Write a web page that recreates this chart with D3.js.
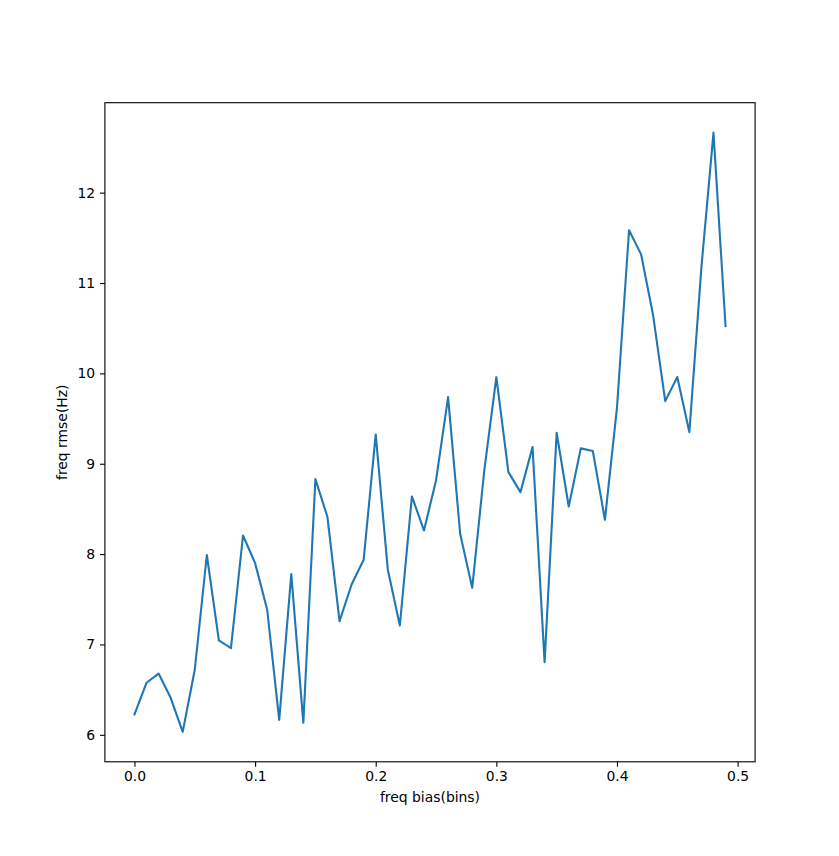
<!DOCTYPE html>
<html>
<head>
<meta charset="utf-8">
<script src="https://cdn.jsdelivr.net/npm/d3@7"></script>
<style>
  body { margin: 0; background: #fff; }
  svg { display: block; }
  .axis text { font-family: "DejaVu Sans", sans-serif; font-size: 13.9px; fill: #000; }
  .axis path, .axis line { stroke: #000; stroke-width: 1.1; }
</style>
</head>
<body>
<svg id="chart"></svg>
<script>
// freq bias (bins) on x, rmse in Hz on y
const biasValues = d3.range(50).map(i => +(i * 0.01).toFixed(2));
const rmseValues = [
  6.225, 6.576, 6.678, 6.41, 6.033, 6.72, 7.99, 7.044, 6.96, 8.206,
  7.90, 7.387, 6.166, 7.778, 6.133, 8.83, 8.41, 7.258, 7.664, 7.937,
  9.324, 7.83, 7.21, 8.638, 8.262, 8.815, 9.737, 8.225, 7.627, 8.926,
  9.958, 8.907, 8.686, 9.184, 6.804, 9.343, 8.527, 9.17, 9.14, 8.38,
  9.62, 11.583, 11.317, 10.64, 9.693, 9.96, 9.35, 11.176, 12.664, 10.523
];
const xTicks = [0.0, 0.1, 0.2, 0.3, 0.4, 0.5];
const yTicks = [6, 7, 8, 9, 10, 11, 12];

(function() {
  const LINE = "#1f77b4";
  const width = 839, height = 856;
  const margin = { top: 102.7, right: 83.9, bottom: 94.2, left: 104.9 };
  const innerWidth = width - margin.left - margin.right;
  const innerHeight = height - margin.top - margin.bottom;

  const svg = d3.select("#chart")
    .attr("width", width)
    .attr("height", height);

  const g = svg.append("g")
    .attr("transform", `translate(${margin.left},${margin.top})`);

  const data = biasValues.map((b, i) => ({ bias: b, rmse: rmseValues[i] }));

  // matplotlib-style 5% padding around the data
  const [x0, x1] = d3.extent(biasValues);
  const [y0, y1] = d3.extent(rmseValues);
  const xPad = (x1 - x0) * 0.05, yPad = (y1 - y0) * 0.05;

  const x = d3.scaleLinear().domain([x0 - xPad, x1 + xPad]).range([0, innerWidth]);
  const y = d3.scaleLinear().domain([y0 - yPad, y1 + yPad]).range([innerHeight, 0]);

  // Line
  const line = d3.line()
    .x(d => x(d.bias))
    .y(d => y(d.rmse));

  g.append("path")
    .datum(data)
    .attr("fill", "none")
    .attr("stroke", LINE)
    .attr("stroke-width", 2.1)
    .attr("stroke-linejoin", "round")
    .attr("stroke-linecap", "square")
    .attr("d", line);

  // Axes
  const xAxis = g.append("g")
    .attr("class", "axis")
    .attr("transform", `translate(0,${innerHeight})`)
    .call(d3.axisBottom(x).tickValues(xTicks).tickFormat(d3.format(".1f"))
      .tickSize(4.9).tickPadding(4.5).tickSizeOuter(0));

  const yAxis = g.append("g")
    .attr("class", "axis")
    .call(d3.axisLeft(y).tickValues(yTicks).tickFormat(d3.format("d"))
      .tickSize(4.9).tickPadding(4.9).tickSizeOuter(0));

  xAxis.select(".domain").remove();
  yAxis.select(".domain").remove();

  // Frame
  g.append("rect")
    .attr("width", innerWidth)
    .attr("height", innerHeight)
    .attr("fill", "none")
    .attr("stroke", "#000")
    .attr("stroke-width", 1.1);

  // Axis labels
  g.append("text")
    .attr("x", innerWidth / 2)
    .attr("y", innerHeight + 40.5)
    .attr("text-anchor", "middle")
    .attr("font-family", "DejaVu Sans, sans-serif")
    .attr("font-size", 13.9)
    .text("freq bias(bins)");

  g.append("text")
    .attr("transform", `translate(-37.5,${innerHeight / 2}) rotate(-90)`)
    .attr("text-anchor", "middle")
    .attr("font-family", "DejaVu Sans, sans-serif")
    .attr("font-size", 13.9)
    .text("freq rmse(Hz)");
})();
</script>
</body>
</html>
